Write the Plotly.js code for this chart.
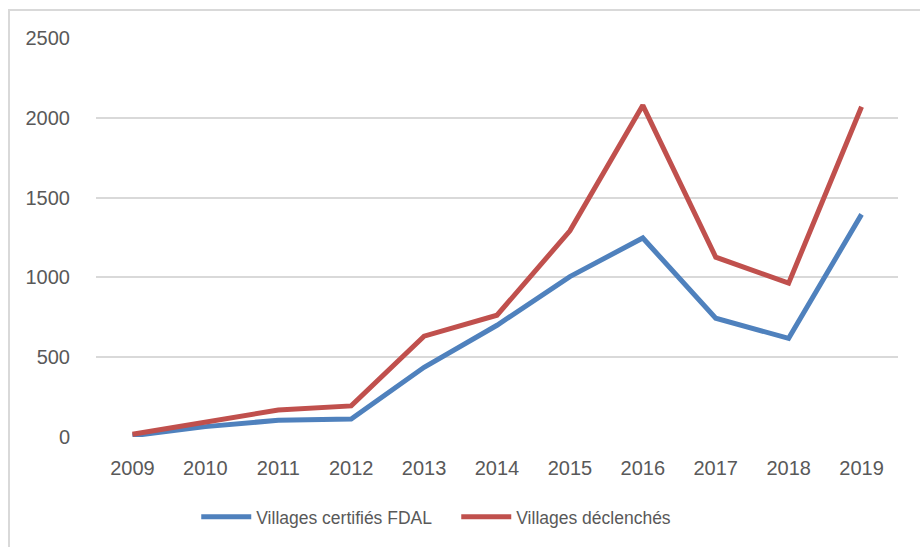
<!DOCTYPE html>
<html>
<head>
<meta charset="utf-8">
<script src="https://cdn.plot.ly/plotly-3.0.1.min.js"></script>
<style>
  html, body { margin: 0; padding: 0; background: #ffffff; }
  #chart { position: absolute; left: 0; top: 0; width: 920px; height: 547px; }
  #frame { position: absolute; left: 8px; top: 9px; width: 930px; height: 560px;
           border-left: 2px solid #d9d9d9; border-top: 2px solid #d9d9d9; pointer-events: none; }
</style>
</head>
<body>
<div id="chart"></div>
<div id="frame"></div>
<script>
const years = ['2009','2010','2011','2012','2013','2014','2015','2016','2017','2018','2019'];
const villagesCertifies = [8, 65, 105, 112, 437, 700, 1005, 1247, 744, 618, 1395];
const villagesDeclenches = [17, 90, 169, 195, 632, 763, 1292, 2078, 1127, 964, 2069];
const yTicks = [0, 500, 1000, 1500, 2000, 2500];
const seriesNames = ['Villages certifiés FDAL', 'Villages déclenchés'];

const fontFam = '"Liberation Sans", Arial, sans-serif';

const traces = [
  { x: years, y: villagesCertifies, name: seriesNames[0], type: 'scatter', mode: 'lines',
    line: { color: '#4F81BD', width: 5, shape: 'linear' } },
  { x: years, y: villagesDeclenches, name: seriesNames[1], type: 'scatter', mode: 'lines',
    line: { color: '#C0504D', width: 5, shape: 'linear' } }
];

const layout = {
  width: 920, height: 547,
  margin: { l: 96, r: 22, t: 38, b: 108 },
  paper_bgcolor: 'rgba(0,0,0,0)',
  plot_bgcolor: '#ffffff',
  showlegend: true,
  legend: {
    orientation: 'h', x: 0.125, xanchor: 'left', y: -0.2, yanchor: 'middle',
    font: { family: fontFam, size: 17.5, color: '#595959' },
    itemwidth: 50, tracegroupgap: 0, traceorder: 'normal',
    entrywidth: 195, entrywidthmode: 'pixels'
  },
  xaxis: {
    type: 'category', range: [-0.5, 10.5],
    showgrid: false, zeroline: false, showline: false,
    ticks: 'outside', ticklen: 13, tickcolor: 'rgba(0,0,0,0)',
    tickfont: { family: fontFam, size: 20, color: '#595959' },
    fixedrange: true
  },
  yaxis: {
    range: [0, 2500], tickvals: yTicks, ticktext: yTicks.map(String),
    showgrid: true, gridcolor: '#d9d9d9', gridwidth: 2,
    zeroline: false, showline: false,
    ticks: 'outside', ticklen: 21, tickcolor: 'rgba(0,0,0,0)',
    tickfont: { family: fontFam, size: 20, color: '#595959' },
    fixedrange: true
  }
};

Plotly.newPlot('chart', traces, layout, { displayModeBar: false, staticPlot: true });
</script>
</body>
</html>
